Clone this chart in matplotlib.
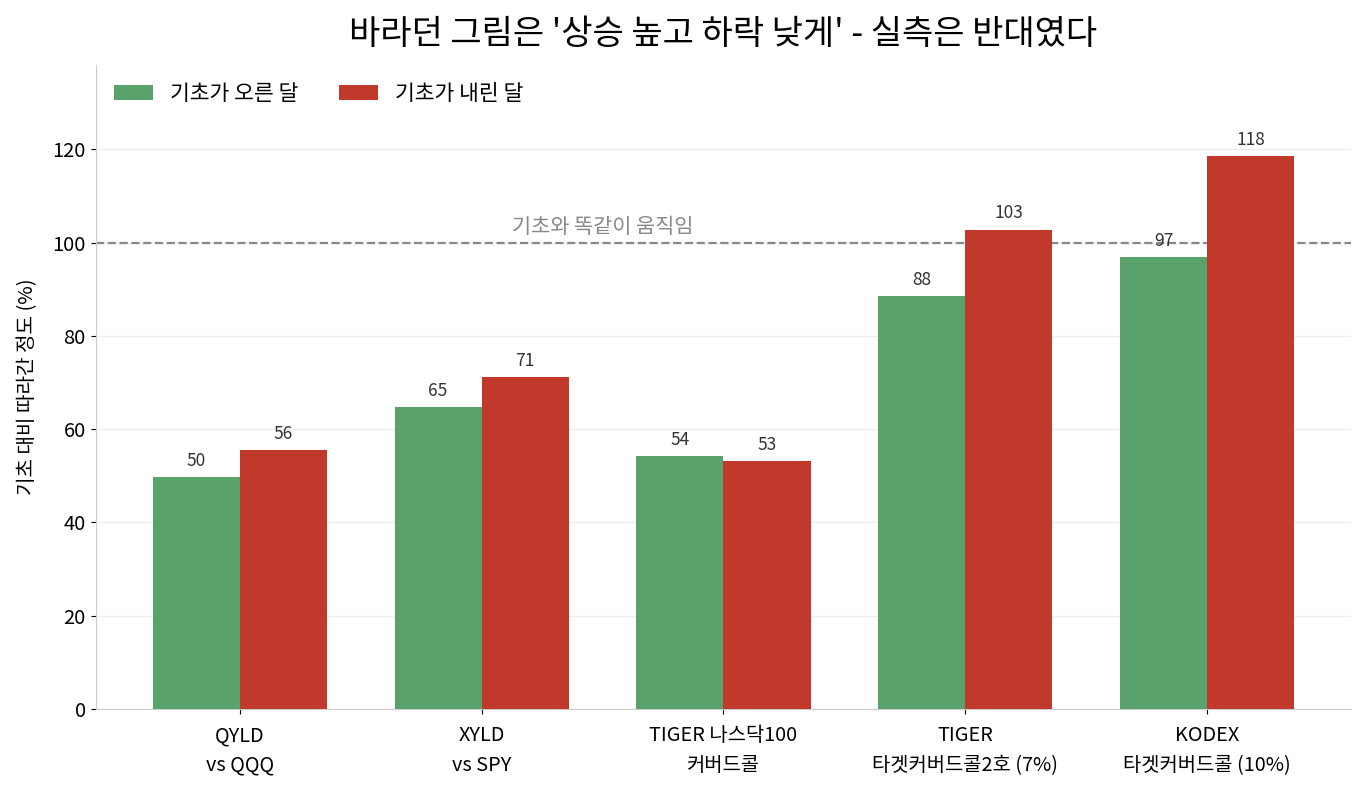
import matplotlib
matplotlib.use('Agg')
import matplotlib.pyplot as plt
import numpy as np

plt.rcParams['font.family'] = ['Noto Sans CJK KR', 'DejaVu Sans']

labels = ['QYLD\nvs QQQ', 'XYLD\nvs SPY', 'TIGER 나스닥100\n커버드콜',
          'TIGER\n타겟커버드콜2호 (7%)', 'KODEX\n타겟커버드콜 (10%)']
up_vals = [49.7, 64.7, 54.2, 88.5, 96.8]
down_vals = [55.5, 71.1, 53.1, 102.7, 118.5]

green = '#5aa26b'
red = '#c0392b'

fig, ax = plt.subplots(figsize=(13.65, 7.95), dpi=100)
fig.subplots_adjust(left=0.07, right=0.99, top=0.918, bottom=0.108)

x = np.arange(len(labels))
w = 0.36
b1 = ax.bar(x - w/2, up_vals, w, color=green, label='기초가 오른 달', zorder=3)
b2 = ax.bar(x + w/2, down_vals, w, color=red, label='기초가 내린 달', zorder=3)

for bars, vals in [(b1, up_vals), (b2, down_vals)]:
    for rect, v in zip(bars, vals):
        ax.text(rect.get_x() + rect.get_width()/2, v + 1.6, f'{v:.0f}',
                ha='center', va='bottom', fontsize=12.5, color='#333333')

ax.axhline(100, color='#888888', linestyle='--', linewidth=1.6, zorder=2)
ax.text(1.5, 101.0, '기초와 똑같이 움직임', ha='center', va='bottom',
        fontsize=15, color='#888888')

ax.set_xticks(x)
ax.set_xticklabels(labels, fontsize=14.3, linespacing=1.55)
ax.tick_params(axis='x', pad=8)
ax.set_ylim(0, 138)
ax.set_yticks([0, 20, 40, 60, 80, 100, 120])
ax.tick_params(axis='y', labelsize=14.5)
ax.set_ylabel('기초 대비 따라간 정도 (%)', fontsize=14.5, labelpad=10)
ax.set_title("바라던 그림은 '상승 높고 하락 낮게' - 실측은 반대였다", fontsize=24.5, pad=15)

ax.yaxis.grid(True, color='#eeeeee', linewidth=1, zorder=0)
ax.set_axisbelow(True)
for s in ['top', 'right']:
    ax.spines[s].set_visible(False)
for s in ['left', 'bottom']:
    ax.spines[s].set_color('#cccccc')

ax.legend(loc='upper left', ncol=2, frameon=False, fontsize=15.5,
          handlelength=1.8, handleheight=0.7, handletextpad=0.8,
          columnspacing=1.9, borderaxespad=0.45)

fig.savefig('out.png', dpi=100)
